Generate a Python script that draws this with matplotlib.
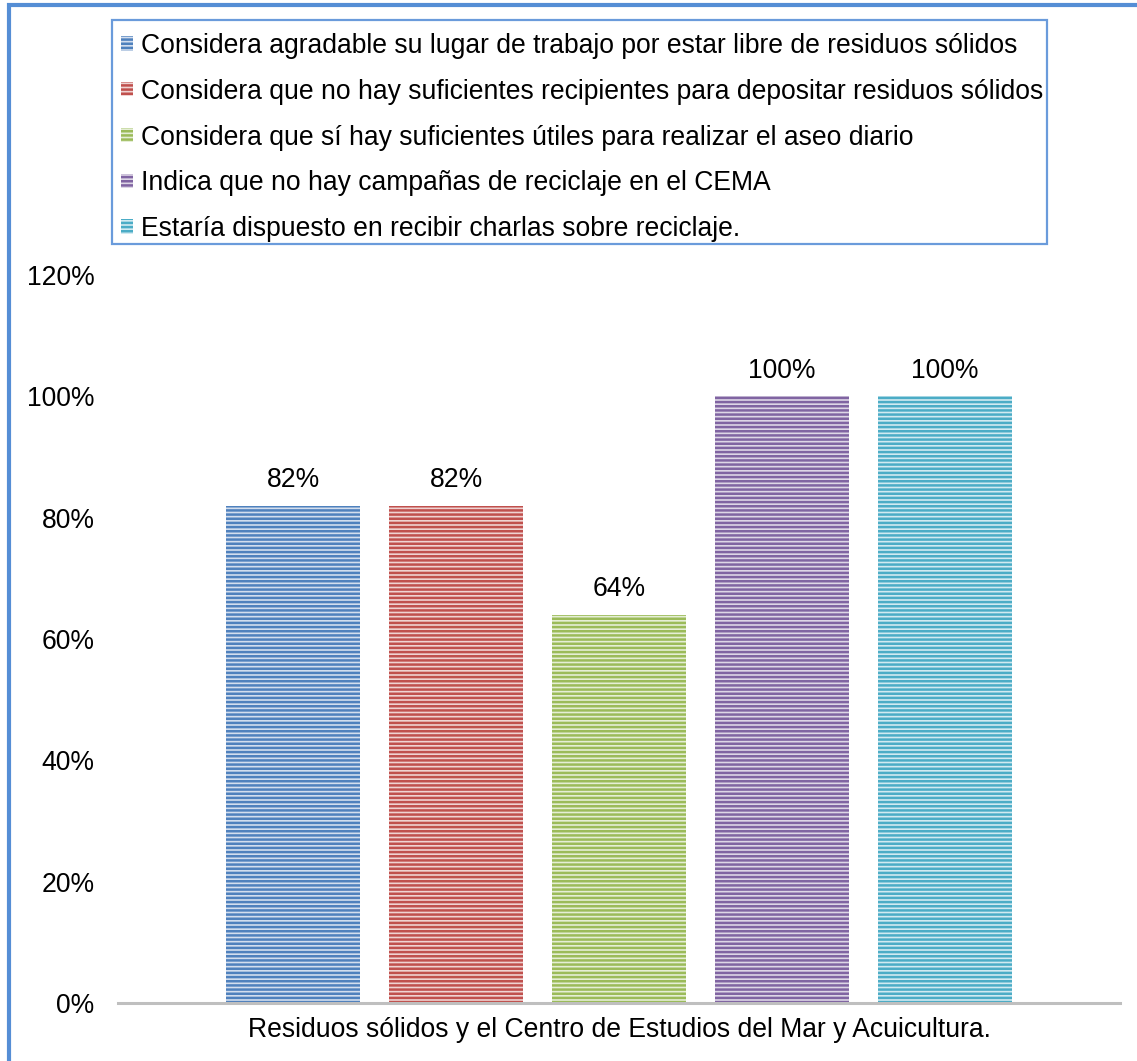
import matplotlib
matplotlib.use("Agg")
import matplotlib.pyplot as plt
from matplotlib.patches import Patch, Rectangle
from matplotlib.lines import Line2D
from matplotlib.ticker import FuncFormatter

plt.rcParams['font.family'] = ['Liberation Sans', 'DejaVu Sans']
plt.rcParams['hatch.linewidth'] = 1.8

# Survey items and their share of positive answers
series = [
    "Considera agradable su lugar de trabajo por estar libre de residuos sólidos",
    "Considera que no hay suficientes recipientes para depositar residuos sólidos",
    "Considera que sí hay suficientes útiles para realizar el aseo diario",
    "Indica que no hay campañas de reciclaje en el CEMA",
    "Estaría dispuesto en recibir charlas sobre reciclaje.",
]
values = [0.82, 0.82, 0.64, 1.00, 1.00]
category = "Residuos sólidos y el Centro de Estudios del Mar y Acuicultura."
yticks = [0, 0.2, 0.4, 0.6, 0.8, 1.0, 1.2]

colors = ["#4F81BD", "#C0504D", "#9BBB59", "#8064A2", "#4BACC6"]
fills = ["#D3DEEE", "#EFD3D2", "#E5EED5", "#DDD6E6", "#D1EAF1"]

FS = 19.1

W, H = 1137, 1061
fig = plt.figure(figsize=(W / 100, H / 100), dpi=100)
ax = fig.add_axes([118 / W, 1 - 1003 / H, (1120 - 118) / W, (1003 - 275) / H])

xs = list(range(len(values)))
bw = 0.82
for x, v, c, f in zip(xs, values, colors, fills):
    ax.bar(x, v, width=bw, color=f, edgecolor=c, hatch="----", linewidth=0)
    ax.annotate(f"{v:.0%}", (x, v), xytext=(0, 9), textcoords="offset points",
                ha="center", va="bottom", fontsize=FS)

ax.set_xlim(2 - 3.074, 2 + 3.074)
ax.set_ylim(0, 1.2)
ax.set_yticks(yticks)
ax.yaxis.set_major_formatter(FuncFormatter(lambda v, p: f"{v:.0%}"))
ax.tick_params(axis="y", length=0, labelsize=FS, pad=17)
ax.set_xticks([2])
ax.set_xticklabels([category])
ax.tick_params(axis="x", length=0, labelsize=FS, pad=10)
for s in ["top", "right", "left"]:
    ax.spines[s].set_visible(False)
ax.spines["bottom"].set_color("#BFBFBF")
ax.spines["bottom"].set_linewidth(2.2)

# Legend entries without their own frame; the box is drawn separately
handles = [Patch(facecolor=f, edgecolor=c, hatch="----", linewidth=0)
           for c, f in zip(colors, fills)]
fig.legend(handles, series, loc="upper left",
           bbox_to_anchor=(121 / W, 1 - 33 / H),
           fontsize=FS, handlelength=0.45, handleheight=0.45,
           handletextpad=0.3, labelspacing=0.745, borderpad=0,
           borderaxespad=0, frameon=False)
fig.add_artist(Rectangle((112 / W, 1 - 244 / H), (1047 - 112) / W, (244 - 20) / H,
                         transform=fig.transFigure, facecolor="none",
                         edgecolor="#6A9BDB", linewidth=1.6))

# Outer chart frame (top and left edges)
fig.add_artist(Line2D([8.5 / W, 8.5 / W, 1.0], [0, 1 - 5 / H, 1 - 5 / H],
                      transform=fig.transFigure, color="#558ED5",
                      linewidth=3, solid_joinstyle="miter"))

fig.savefig("out.png", dpi=100)
